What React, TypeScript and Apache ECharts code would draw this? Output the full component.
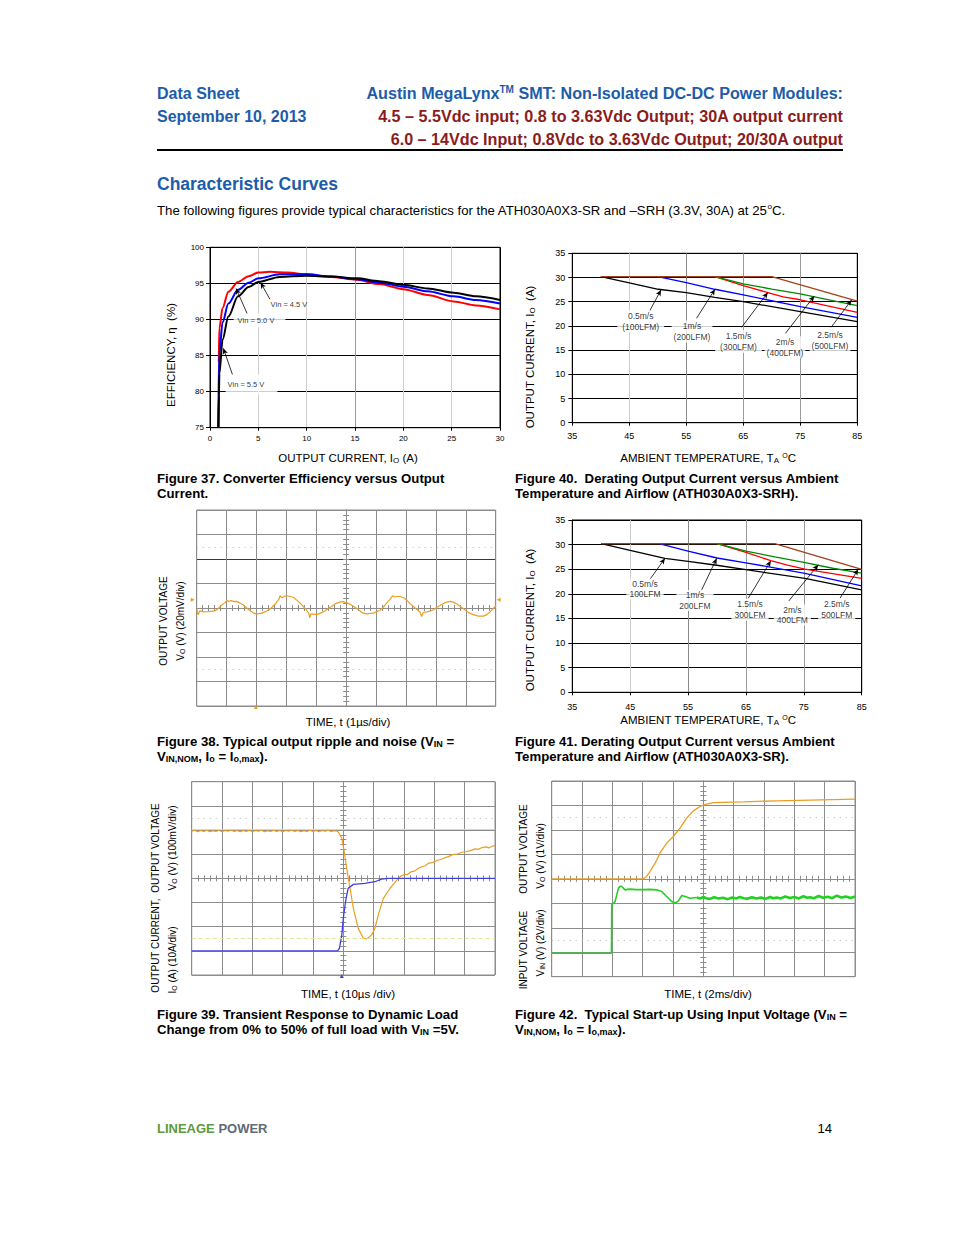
import React, { useEffect, useRef } from "react";
import * as echarts from "echarts";

const FONT = "'Liberation Sans', Arial, Helvetica, sans-serif";
const BLUE = "#1d5ca8";
const DARKRED = "#8a1c1c";
const ORANGE = "#ec9e20";
const GRIDGRAY = "#8c8c8c";

// ---------------- Figure 37: efficiency vs output current ----------------
const effCurrentTicks = [0, 5, 10, 15, 20, 25, 30];
const effTicks = [75, 80, 85, 90, 95, 100];
const effVin45 = [[0.86, 75], [0.9, 84], [0.97, 88.8], [1.3, 91.6], [1.9, 93.85], [2.9, 95.2], [4, 96.0], [5, 96.5], [6.2, 96.6], [8, 96.5], [10, 96.25], [12.5, 95.9], [15.2, 95.5], [17.5, 94.9], [20, 94.2], [22.5, 93.4], [25.2, 92.5], [27.5, 91.95], [30, 91.4]];
const effVin50 = [[0.88, 75], [0.93, 81], [0.97, 85.3], [1.3, 89.6], [1.9, 92.2], [2.9, 94.1], [4, 95.1], [5, 95.7], [7.2, 96.25], [10, 96.25], [12.5, 95.95], [15.2, 95.56], [17.5, 95.1], [20, 94.55], [22.5, 93.9], [25.2, 93.2], [27.5, 92.7], [30, 92.2]];
const effVin55 = [[0.86, 75], [0.92, 79.5], [0.97, 82.5], [1.3, 87.2], [1.9, 90.4], [2.9, 93.2], [4, 94.5], [5, 95.2], [7.2, 95.9], [10, 96.05], [12.5, 95.95], [15.2, 95.7], [17.5, 95.3], [20, 94.8], [22.5, 94.3], [25.2, 93.7], [27.5, 93.2], [30, 92.7]];
const effLabelTexts = ["Vin = 4.5 V", "Vin = 5.0 V", "Vin = 5.5 V"];

// ---------------- Figures 40 / 41: derating ----------------
const tempTicks = [35, 45, 55, 65, 75, 85];
const currentTicks = [0, 5, 10, 15, 20, 25, 30, 35];
const airflowTexts40 = ["0.5m/s\n(100LFM)", "1m/s\n(200LFM)", "1.5m/s\n(300LFM)", "2m/s\n(400LFM)", "2.5m/s\n(500LFM)"];
const airflowTexts41 = ["0.5m/s\n100LFM", "1m/s\n200LFM", "1.5m/s\n300LFM", "2m/s\n400LFM", "2.5m/s\n500LFM"];
// Fig 40 (SRH)
const srh05 = [[40, 30.2], [44.8, 28.95], [50.1, 27.57], [55, 26.88], [60, 25.9], [65, 25.0], [75, 22.95], [85, 20.88]];
const srh10 = [[50, 30.2], [55, 28.95], [60, 27.57], [65, 26.4], [75, 23.98], [85, 21.78]];
const srh15 = [[60, 30.2], [65, 28.3], [69.3, 26.9], [72, 26.0], [75, 25.4], [85, 22.8]];
const srh20 = [[60, 30.2], [65, 28.7], [70, 27.6], [75, 26.6], [80, 25.4], [85, 24.2]];
const srh25 = [[40, 30.2], [70, 30.2], [85, 25.1]];
// Fig 41 (SR)
const sr05 = [[40, 30.2], [44.8, 28.9], [51, 27.2], [55, 26.6], [59.65, 25.86], [65, 24.9], [75.2, 23.15], [85, 20.8]];
const sr10 = [[50, 30.2], [55, 28.7], [60, 27.28], [65, 26.3], [69.45, 25.39], [75.2, 24.17], [85, 21.6]];
const sr15 = [[60, 30.2], [65, 28.4], [69.3, 26.74], [72, 25.9], [75.2, 25.0], [85, 23.15]];
const sr20 = [[60, 30.2], [65, 28.7], [70, 27.5], [75, 26.4], [80, 25.2], [85, 24.2]];
const sr25 = [[40, 30.2], [70, 30.2], [85, 24.98]];
const airflowColors = ["#000000", "#0000ff", "#ff0000", "#008a00", "#a0421a"];

// ---------------- Scope plots (divisions) ----------------
const divX = [-5, -4, -3, -2, -1, 0, 1, 2, 3, 4, 5];
const divY = [-4, -3, -2, -1, 0, 1, 2, 3, 4];
// Fig 38 ripple (20mV/div, 1us/div)
const rippleTrace = [[-5.0, -0.05], [-4.95, -0.28], [-4.9, -0.12], [-4.78, -0.16], [-4.6, -0.15], [-4.39, -0.12], [-4.28, -0.02], [-4.16, 0.12], [-4.05, 0.22], [-3.98, 0.32], [-3.94, 0.27], [-3.85, 0.3], [-3.75, 0.26], [-3.66, 0.27], [-3.55, 0.2], [-3.44, 0.12], [-3.33, 0.0], [-3.22, -0.1], [-3.1, -0.2], [-2.99, -0.24], [-2.85, -0.22], [-2.71, -0.15], [-2.6, -0.08], [-2.49, 0.02], [-2.35, 0.2], [-2.25, 0.36], [-2.21, 0.5], [-2.15, 0.42], [-2.05, 0.48], [-1.99, 0.5], [-1.88, 0.47], [-1.77, 0.44], [-1.63, 0.3], [-1.49, 0.14], [-1.35, -0.05], [-1.25, -0.22], [-1.22, -0.4], [-1.18, -0.24], [-1.1, -0.25], [-0.99, -0.27], [-0.88, -0.22], [-0.76, -0.15], [-0.62, -0.04], [-0.48, 0.07], [-0.35, 0.18], [-0.21, 0.24], [-0.1, 0.26], [-0.04, 0.23], [0.05, 0.2], [0.13, 0.15], [0.27, 0.05], [0.41, -0.07], [0.55, -0.2], [0.69, -0.24], [0.8, -0.22], [0.91, -0.21], [1.02, -0.15], [1.13, -0.1], [1.25, 0.05], [1.35, 0.2], [1.47, 0.36], [1.55, 0.5], [1.62, 0.45], [1.7, 0.47], [1.8, 0.47], [1.92, 0.42], [2.02, 0.32], [2.14, 0.18], [2.25, 0.06], [2.36, -0.06], [2.47, -0.16], [2.52, -0.35], [2.58, -0.18], [2.69, -0.16], [2.8, -0.13], [2.92, -0.07], [3.05, 0.04], [3.19, 0.14], [3.33, 0.23], [3.47, 0.27], [3.58, 0.24], [3.7, 0.16], [3.83, 0.05], [3.97, -0.07], [4.1, -0.2], [4.25, -0.27], [4.42, -0.33], [4.59, -0.33], [4.7, -0.27], [4.81, -0.16], [4.92, -0.02], [5.0, 0.08]];
// Fig 39 transient (Vo 100mV/div, Io 10A/div, 10us/div)
const transientVo = [[-5, 1.95], [-4.9, 1.99], [-4.8, 1.93], [-4.7, 1.98], [-4.6, 1.94], [-4.5, 1.99], [-4.4, 1.93], [-4.3, 1.97], [-4.2, 1.94], [-4.1, 1.99], [-4.0, 1.93], [-3.9, 1.98], [-3.8, 1.95], [-3.7, 2.0], [-3.6, 1.94], [-3.5, 1.98], [-3.4, 1.93], [-3.3, 1.98], [-3.2, 1.94], [-3.1, 1.99], [-3.0, 1.93], [-2.9, 1.98], [-2.8, 1.95], [-2.7, 1.99], [-2.6, 1.93], [-2.5, 1.97], [-2.4, 1.94], [-2.3, 1.99], [-2.2, 1.94], [-2.1, 1.98], [-2.0, 1.93], [-1.9, 1.98], [-1.8, 1.95], [-1.7, 2.0], [-1.6, 1.94], [-1.5, 1.98], [-1.4, 1.93], [-1.3, 1.97], [-1.2, 1.94], [-1.1, 1.99], [-1.0, 1.94], [-0.9, 1.98], [-0.8, 1.93], [-0.7, 1.98], [-0.6, 1.95], [-0.5, 1.99], [-0.4, 1.94], [-0.3, 1.97], [-0.2, 1.95], [-0.16, 1.9], [-0.05, 1.66], [0.03, 1.1], [0.11, 0.41], [0.22, -0.41], [0.33, -1.24], [0.49, -2.07], [0.66, -2.48], [0.77, -2.51], [0.93, -2.34], [1.04, -2.07], [1.15, -1.52], [1.32, -0.83], [1.54, -0.41], [1.68, -0.2], [1.81, 0.0], [1.9, 0.1], [2.03, 0.17], [2.1, 0.15], [2.25, 0.28], [2.35, 0.3], [2.45, 0.4], [2.58, 0.48], [2.7, 0.52], [2.8, 0.62], [2.95, 0.66], [3.13, 0.76], [3.25, 0.8], [3.35, 0.85], [3.46, 0.9], [3.6, 0.98], [3.75, 1.0], [3.9, 1.08], [4.05, 1.1], [4.23, 1.17], [4.35, 1.22], [4.45, 1.2], [4.56, 1.27], [4.7, 1.3], [4.8, 1.26], [4.9, 1.33], [5.0, 1.35]];
const transientIo = [[-5, -3.0], [-0.19, -3.0], [-0.13, -2.9], [-0.05, -2.34], [0.01, -1.52], [0.09, -0.83], [0.16, -0.41], [0.33, -0.25], [0.71, -0.21], [1.04, -0.14], [1.26, -0.03], [1.48, 0.0], [5, 0.0]];
// Fig 42 start-up (Vo 1V/div, Vin 2V/div, 2ms/div)
const startupVo = [[-5, 0], [-3.5, 0], [-1.98, 0], [-1.87, 0.1], [-1.76, 0.3], [-1.59, 0.64], [-1.43, 1.05], [-1.21, 1.46], [-0.99, 1.73], [-0.77, 2.07], [-0.55, 2.48], [-0.33, 2.78], [-0.11, 2.96], [0.11, 3.05], [0.33, 3.12], [0.66, 3.13], [1.32, 3.15], [2.42, 3.19], [3.52, 3.22], [5, 3.26]];
const startupVin = [[-5, -3.04], [-3.03, -3.04], [-3.02, -1.06], [-2.91, -0.93], [-2.8, -0.38], [-2.74, -0.3], [-2.69, -0.31], [-2.58, -0.45], [-2.5, -0.43], [-2.42, -0.42], [-2.2, -0.44], [-1.98, -0.44], [-1.76, -0.43], [-1.54, -0.45], [-1.37, -0.52], [-1.21, -0.72], [-1.04, -0.93], [-0.93, -0.99], [-0.82, -0.9], [-0.71, -0.68], [-0.6, -0.72], [-0.44, -0.79], [-0.22, -0.76]];
const startupVinNoisy = [[-0.22, -0.76], [-0.1, -0.8], [0.0, -0.74], [0.1, -0.79], [0.22, -0.82], [0.35, -0.75], [0.5, -0.8], [0.65, -0.77], [0.8, -0.83], [0.95, -0.76], [1.1, -0.8], [1.2, -0.74], [1.32, -0.79], [1.45, -0.81], [1.6, -0.75], [1.75, -0.8], [1.9, -0.76], [2.05, -0.82], [2.2, -0.74], [2.3, -0.79], [2.42, -0.76], [2.55, -0.8], [2.7, -0.72], [2.85, -0.78], [3.0, -0.74], [3.15, -0.8], [3.3, -0.71], [3.42, -0.77], [3.52, -0.75], [3.65, -0.79], [3.8, -0.7], [3.95, -0.77], [4.1, -0.73], [4.25, -0.79], [4.4, -0.69], [4.55, -0.76], [4.7, -0.72], [4.85, -0.78], [5.0, -0.72]];

// ---------------- annotation placement (data coordinates) ----------------
const effLabelAnchors = [
  { x: 8.17, y: 92.13, pad: [0, 0, 0, 0], bg: "transparent" },
  { x: 5.12, y: 89.9, pad: [2, 11, 2, 4], bg: "#fff" },
  { x: 4.29, y: 81.01, pad: [3, 13, 7, 2], bg: "#fff" },
];
const effArrows = [
  [[6.2, 92.8], [5.24, 95.1]],
  [[3.86, 90.75], [2.69, 94.3]],
  [[2.34, 82.3], [1.38, 86.0]],
];
const srhLabelAnchors = [
  { x: 47.0, y: 20.91, pad: [0, 5, 0, 5] },
  { x: 56.0, y: 18.84, pad: [0, 2, 0, 2] },
  { x: 64.16, y: 16.78, pad: [0, 5, 1, 5] },
  { x: 72.32, y: 15.6, pad: [0, 2, 0, 2] },
  { x: 80.21, y: 16.98, pad: [0, 2, 2, 2] },
];
const srhArrows = [
  [[48.6, 23.16], [50.56, 27.43]],
  [[56.8, 21.57], [60.03, 27.57]],
  [[64.7, 19.7], [69.3, 26.9]],
  [[72.4, 18.47], [77.46, 26.19]],
  [[80.4, 19.7], [84.0, 25.36]],
];
const srLabelAnchors = [
  { x: 47.56, y: 20.98, pad: [0, 3, 0, 3] },
  { x: 56.19, y: 18.65, pad: [0, 3, 0, 3] },
  { x: 65.7, y: 16.78, pad: [0, 3, 1, 3] },
  { x: 73.02, y: 15.7, pad: [0, 3, 0, 3] },
  { x: 80.69, y: 16.78, pad: [0, 3, 1, 3] },
];
const srArrows = [
  [[48.42, 22.95], [51.0, 27.2]],
  [[57.35, 20.8], [59.94, 27.2]],
  [[65.4, 19.1], [69.3, 26.7]],
  [[72.4, 18.55], [77.5, 25.9]],
  [[81.25, 19.1], [84.4, 24.98]],
];

// ---------------- helpers ----------------
function gText(x: number, y: number, text: string, o: any = {}) {
  const size = o.size ?? 12;
  const color = o.color ?? "#000";
  const weight = o.bold ? "bold" : "normal";
  const rich: any = {
    s: { fill: color, fontFamily: FONT, fontWeight: weight, fontSize: Math.round(size * 0.68), lineHeight: Math.round(size * 0.72), padding: [Math.round(size * 0.42), 0, 0, 0] },
    p: { fill: color, fontFamily: FONT, fontWeight: weight, fontSize: Math.round(size * 0.62), lineHeight: Math.round(size * 0.7), padding: [0, 0, Math.round(size * 0.5), 0] },
    ...(o.rich || {}),
  };
  return {
    type: "text",
    x,
    y,
    rotation: o.rot ?? 0,
    silent: true,
    z: 10,
    style: {
      text,
      fill: color,
      fontFamily: FONT,
      fontSize: size,
      fontWeight: weight,
      align: o.align ?? "left",
      verticalAlign: "middle",
      rich,
    },
  };
}

function arrowMarks(arrows: number[][][], dx = 0) {
  return {
    silent: true,
    animation: false,
    symbol: ["none", "arrow"],
    symbolSize: [4, 6],
    label: { show: false },
    lineStyle: { color: "#000", width: 0.8, type: "solid" },
    emphasis: { disabled: true },
    data: arrows.map(([a, b]) => [{ coord: [a[0] - dx, a[1]] }, { coord: [b[0] - dx, b[1]] }]),
  };
}

function labelSeries(xi: number, yi: number, texts: string[], anchors: any[], fontSize: number, lineHeight: number, arrows: number[][][], dx = 0) {
  return {
    type: "scatter",
    xAxisIndex: xi,
    yAxisIndex: yi,
    symbolSize: 1,
    silent: true,
    z: 5,
    itemStyle: { color: "rgba(0,0,0,0)" },
    label: { show: true, position: "inside", color: "#000", fontFamily: FONT, fontSize, lineHeight, backgroundColor: "#fff" },
    data: anchors.map((a, i) => ({
      value: [a.x - dx, a.y],
      label: { formatter: texts[i], padding: a.pad, backgroundColor: a.bg ?? "#fff" },
    })),
    markLine: arrowMarks(arrows, dx),
  };
}

function lineSeries(xi: number, yi: number, data: number[][], color: string, width: number, extra: any = {}) {
  return {
    type: "line",
    xAxisIndex: xi,
    yAxisIndex: yi,
    data,
    showSymbol: false,
    symbol: "none",
    silent: true,
    lineStyle: { color, width },
    itemStyle: { color },
    emphasis: { disabled: true },
    z: 3,
    ...extra,
  };
}

const shiftT = (pts: number[][]) => pts.map(([t, v]) => [t - tempTicks[0], v]);

function plotX(grid: number, ticks: number[], splitColors: string[], fontSize: number, margin: number, formatter?: any) {
  return {
    type: "value",
    gridIndex: grid,
    min: formatter ? 0 : ticks[0],
    max: formatter ? ticks[ticks.length - 1] - ticks[0] : ticks[ticks.length - 1],
    interval: ticks[1] - ticks[0],
    axisLine: { show: true, onZero: false, lineStyle: { color: "#000", width: 1 } },
    axisTick: { show: true, length: 3, lineStyle: { color: "#000" } },
    axisLabel: { show: true, margin, fontSize, fontFamily: FONT, color: "#000", formatter },
    splitLine: { show: true, lineStyle: { color: splitColors, width: 1 } },
  };
}
function plotY(grid: number, ticks: number[], fontSize: number, margin: number) {
  return {
    type: "value",
    gridIndex: grid,
    min: ticks[0],
    max: ticks[ticks.length - 1],
    interval: ticks[1] - ticks[0],
    axisLine: { show: true, onZero: false, lineStyle: { color: "#000", width: 1 } },
    axisTick: { show: true, length: 4, lineStyle: { color: "#000" } },
    axisLabel: { show: true, margin, fontSize, fontFamily: FONT, color: "#000" },
    splitLine: { show: true, lineStyle: { color: "#000", width: 1 } },
  };
}
function scopeX(grid: number, yIdx: number, main: boolean, inside: boolean) {
  return {
    type: "value",
    gridIndex: grid,
    min: divX[0],
    max: divX[divX.length - 1],
    interval: 1,
    position: "bottom",
    axisLine: { show: true, onZero: true, onZeroAxisIndex: yIdx, lineStyle: { color: GRIDGRAY, width: 1 } },
    axisTick: { show: true, inside, length: 3, lineStyle: { color: GRIDGRAY } },
    minorTick: { show: true, splitNumber: 5, length: 3, lineStyle: { color: GRIDGRAY } },
    axisLabel: { show: false },
    splitLine: { show: main, lineStyle: { color: GRIDGRAY, width: 1 } },
  };
}
function scopeY(grid: number, xIdx: number, main: boolean, inside: boolean, colors: string[] = [GRIDGRAY]) {
  return {
    type: "value",
    gridIndex: grid,
    min: divY[0],
    max: divY[divY.length - 1],
    interval: 1,
    position: "left",
    axisLine: { show: true, onZero: true, onZeroAxisIndex: xIdx, lineStyle: { color: GRIDGRAY, width: 1 } },
    axisTick: { show: true, inside, length: 3, lineStyle: { color: GRIDGRAY } },
    minorTick: { show: true, splitNumber: 5, length: 3, lineStyle: { color: GRIDGRAY } },
    axisLabel: { show: false },
    splitLine: { show: main, lineStyle: { color: colors, width: 1 } },
  };
}

function refLines(items: any[]) {
  return {
    silent: true,
    animation: false,
    symbol: "none",
    label: { show: false },
    emphasis: { disabled: true },
    data: items,
  };
}

function marks(items: any[]) {
  return { silent: true, animation: false, label: { show: false }, emphasis: { disabled: true }, data: items };
}

function buildOption() {
  const gridBase = { show: true, backgroundColor: "transparent", borderWidth: 1, containLabel: false, outerBoundsMode: "none" };
  const grid = [
    { ...gridBase, left: 210, top: 247.3, width: 290, height: 180.4, borderColor: "#000" },
    { ...gridBase, left: 572.3, top: 253.3, width: 285, height: 169.4, borderColor: "#000" },
    { ...gridBase, left: 196.7, top: 510, width: 299, height: 196, borderColor: GRIDGRAY },
    { ...gridBase, left: 572.3, top: 520, width: 289.4, height: 172.3, borderColor: "#000" },
    { ...gridBase, left: 191.7, top: 781.7, width: 303.3, height: 193.3, borderColor: GRIDGRAY },
    { ...gridBase, left: 551.7, top: 781, width: 303.3, height: 195.7, borderColor: GRIDGRAY },
  ];
  const tempFormatter = (v: number) => String(v + tempTicks[0]);
  const tempSplit = ["#000", "#cccccc", "#8a8a8a", "#9a9a9a", "#9a9a9a", "#000"];
  const xAxis = [
    plotX(0, effCurrentTicks, ["#000", "#cfcfcf", "#cfcfcf", "#999999", "#cfcfcf", "#cfcfcf", "#000"], 8, 7),
    plotX(1, tempTicks, tempSplit, 9, 9, tempFormatter),
    scopeX(2, 2, true, false),
    scopeX(2, 2, false, true),
    plotX(3, tempTicks, tempSplit, 9, 10, tempFormatter),
    scopeX(4, 5, true, false),
    scopeX(4, 5, false, true),
    scopeX(5, 7, true, false),
    scopeX(5, 7, false, true),
  ];
  const yAxis = [
    plotY(0, effTicks, 8, 6),
    plotY(1, currentTicks, 9, 7),
    scopeY(2, 2, true, false, [GRIDGRAY, GRIDGRAY, GRIDGRAY, GRIDGRAY, GRIDGRAY, GRIDGRAY, "#3a3a3a", GRIDGRAY, GRIDGRAY]),
    scopeY(2, 2, false, true),
    plotY(3, currentTicks, 9, 7),
    scopeY(4, 5, true, false),
    scopeY(4, 5, false, true),
    scopeY(5, 7, true, false),
    scopeY(5, 7, false, true),
  ];

  const effSmooth = { smooth: 0.3, smoothMonotone: "x" };
  const srhCurves = [srh05, srh10, srh15, srh20, srh25];
  const srCurves = [sr05, sr10, sr15, sr20, sr25];
  const dotted = { color: "#b4b4b4", type: [1, 5], width: 1 };

  const series: any[] = [
    lineSeries(0, 0, effVin45, "#ff0000", 2, effSmooth),
    lineSeries(0, 0, effVin50, "#0000ff", 2, effSmooth),
    lineSeries(0, 0, effVin55, "#000000", 2, effSmooth),
    labelSeries(0, 0, effLabelTexts, effLabelAnchors, 7.5, 10, effArrows),
    ...srhCurves.map((c, i) => lineSeries(1, 1, shiftT(c), airflowColors[i], 1.3)),
    labelSeries(1, 1, airflowTexts40, srhLabelAnchors, 8.5, 11, srhArrows, tempTicks[0]),
    ...srCurves.map((c, i) => lineSeries(4, 4, shiftT(c), airflowColors[i], 1.3)),
    labelSeries(4, 4, airflowTexts41, srLabelAnchors, 8.5, 10.5, srArrows, tempTicks[0]),
    lineSeries(2, 2, rippleTrace, ORANGE, 1.2, {
      markLine: refLines([
        { yAxis: 2.5, lineStyle: dotted },
        { yAxis: -2.5, lineStyle: dotted },
      ]),
      markPoint: marks([
        { coord: [-5, 0.34], symbol: "triangle", symbolRotate: -90, symbolSize: 4, symbolOffset: [-4, 0], itemStyle: { color: ORANGE } },
        { coord: [5, 0.34], symbol: "triangle", symbolRotate: 90, symbolSize: 4, symbolOffset: [3, 0], itemStyle: { color: ORANGE } },
        { coord: [-3.02, -4], symbol: "triangle", symbolSize: 4, symbolOffset: [0, 1], itemStyle: { color: ORANGE } },
      ]),
    }),
    lineSeries(5, 5, transientVo, ORANGE, 1.2, {
      markLine: refLines([
        { yAxis: 2.5, lineStyle: dotted },
        { yAxis: 2.03, lineStyle: { color: "#dcdc9c", type: "solid", width: 1 } },
        { yAxis: -2.48, lineStyle: { color: "#e2e29a", type: [4, 3], width: 1 } },
      ]),
    }),
    lineSeries(5, 5, transientIo, "#4040e0", 1.3, {
      markPoint: marks([
        { coord: [-0.05, -4], symbol: "triangle", symbolSize: 4, symbolOffset: [0, 1], itemStyle: { color: "#4040e0" } },
      ]),
    }),
    lineSeries(7, 7, startupVin, "#22d022", 1.6, {
      markLine: refLines([
        { yAxis: 2.5, lineStyle: dotted },
        { yAxis: -2.52, lineStyle: dotted },
      ]),
    }),
    lineSeries(7, 7, startupVinNoisy, "#22d022", 2.6),
    lineSeries(7, 7, startupVo, ORANGE, 1.3),
  ];

  const rot = Math.PI / 2;
  const HS = 16.15;
  const CS = 13.2;
  const graphic: any[] = [
    gText(157, 93, "Data Sheet", { size: 16, bold: true, color: BLUE }),
    gText(157, 116, "September 10, 2013", { size: 16, bold: true, color: BLUE }),
    gText(843, 93, "Austin MegaLynx{p|TM} SMT: Non-Isolated DC-DC Power Modules:", { size: HS, bold: true, color: BLUE, align: "right" }),
    gText(843, 116, "4.5 – 5.5Vdc input; 0.8 to 3.63Vdc Output; 30A output current", { size: HS, bold: true, color: DARKRED, align: "right" }),
    gText(843, 139, "6.0 – 14Vdc Input; 0.8Vdc to 3.63Vdc Output; 20/30A output", { size: HS, bold: true, color: DARKRED, align: "right" }),
    { type: "line", silent: true, shape: { x1: 157, y1: 150, x2: 843, y2: 150 }, style: { stroke: "#000", lineWidth: 2 } },
    gText(157, 184, "Characteristic Curves", { size: 17.5, bold: true, color: BLUE }),
    gText(157, 210, "The following figures provide typical characteristics for the ATH030A0X3-SR and –SRH (3.3V, 30A) at 25{p|o}C.", { size: 13.2 }),

    // Fig 37
    gText(171, 355, "EFFICIENCY, η  (%)", { size: 11.5, rot, align: "center" }),
    gText(348, 458, "OUTPUT CURRENT, I{s|O} (A)", { size: 11.5, align: "center" }),
    gText(157, 478, "Figure 37. Converter Efficiency versus Output", { size: CS, bold: true }),
    gText(157, 493, "Current.", { size: CS, bold: true }),

    // Fig 40
    gText(530, 357, "OUTPUT CURRENT, I{s|O}  (A)", { size: 11.5, rot, align: "center" }),
    gText(708, 458, "AMBIENT TEMPERATURE, T{s|A} {p|O}C", { size: 11.5, align: "center" }),
    gText(515, 478, "Figure 40.  Derating Output Current versus Ambient", { size: CS, bold: true }),
    gText(515, 493, "Temperature and Airflow (ATH030A0X3-SRH).", { size: CS, bold: true }),

    // Fig 38
    gText(163, 621, "OUTPUT VOLTAGE", { size: 10, rot, align: "center" }),
    gText(180, 621, "V{s|O} (V) (20mV/div)", { size: 10, rot, align: "center" }),
    gText(348, 722, "TIME, t (1µs/div)", { size: 11.5, align: "center" }),
    gText(157, 741, "Figure 38. Typical output ripple and noise (V{s|IN} =", { size: CS, bold: true }),
    gText(157, 756, "V{s|IN,NOM}, I{s|o} = I{s|o,max}).", { size: CS, bold: true }),

    // Fig 41
    gText(530, 620, "OUTPUT CURRENT, I{s|O}  (A)", { size: 11.5, rot, align: "center" }),
    gText(708, 720, "AMBIENT TEMPERATURE, T{s|A} {p|O}C", { size: 11.5, align: "center" }),
    gText(515, 741, "Figure 41. Derating Output Current versus Ambient", { size: CS, bold: true }),
    gText(515, 756, "Temperature and Airflow (ATH030A0X3-SR).", { size: CS, bold: true }),

    // Fig 39
    gText(155, 898, "OUTPUT CURRENT,  OUTPUT VOLTAGE", { size: 10, rot, align: "center" }),
    gText(172, 848, "V{s|O} (V) (100mV/div)", { size: 10, rot, align: "center" }),
    gText(172, 960, "I{s|O} (A) (10A/div)", { size: 10, rot, align: "center" }),
    gText(348, 994, "TIME, t (10µs /div)", { size: 11.5, align: "center" }),
    gText(157, 1014, "Figure 39. Transient Response to Dynamic Load", { size: CS, bold: true }),
    gText(157, 1029, "Change from 0% to 50% of full load with V{s|IN} =5V.", { size: CS, bold: true }),

    // Fig 42
    gText(523, 849, "OUTPUT VOLTAGE", { size: 10, rot, align: "center" }),
    gText(540, 856, "V{s|O} (V) (1V/div)", { size: 10, rot, align: "center" }),
    gText(523, 950, "INPUT VOLTAGE", { size: 10, rot, align: "center" }),
    gText(540, 943, "V{s|IN} (V) (2V/div)", { size: 10, rot, align: "center" }),
    gText(708, 994, "TIME, t (2ms/div)", { size: 11.5, align: "center" }),
    gText(515, 1014, "Figure 42.  Typical Start-up Using Input Voltage (V{s|IN} =", { size: CS, bold: true }),
    gText(515, 1029, "V{s|IN,NOM}, I{s|o} = I{s|o,max}).", { size: CS, bold: true }),

    // Footer
    gText(157, 1128, "{g|LINEAGE} POWER", {
      size: 13,
      bold: true,
      color: "#5f6b78",
      rich: { g: { fill: "#5c9a3c", fontFamily: FONT, fontWeight: "bold", fontSize: 13 } },
    }),
    gText(832, 1128, "14", { size: 13, align: "right" }),
  ];

  return {
    animation: false,
    backgroundColor: "#ffffff",
    textStyle: { fontFamily: FONT },
    grid,
    xAxis,
    yAxis,
    series,
    graphic,
  };
}

export default function App() {
  const ref = useRef<HTMLDivElement>(null);
  useEffect(() => {
    if (!ref.current) return;
    const chart = echarts.init(ref.current, undefined, { renderer: "svg" });
    chart.setOption(buildOption() as any);
    return () => chart.dispose();
  }, []);
  return (
    <div
      ref={ref}
      style={{ position: "absolute", left: 0, top: 0, width: 954, height: 1235, background: "#fff" }}
    />
  );
}
